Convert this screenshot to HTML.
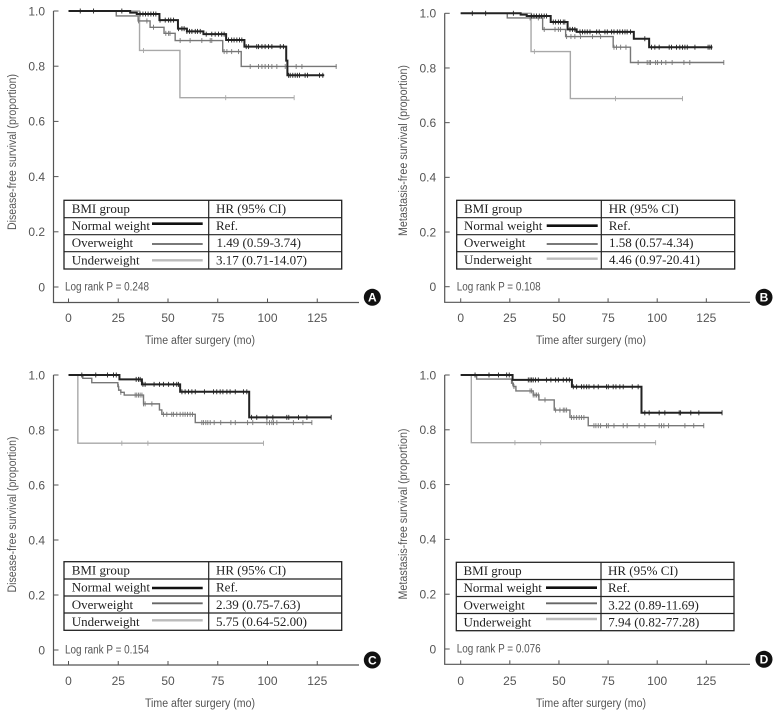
<!DOCTYPE html>
<html lang="en">
<head>
<meta charset="utf-8">
<title>Survival by BMI group</title>
<style>
html,body{margin:0;padding:0;background:#fff;}
svg{display:block;}
.ax{font-family:"Liberation Sans",sans-serif;font-size:11.5px;fill:#555;}
.tk{font-family:"Liberation Sans",sans-serif;font-size:12px;fill:#555;}
.tb{font-family:"Liberation Serif",serif;font-size:13px;fill:#222;}
.bd{font-family:"Liberation Sans",sans-serif;font-size:12px;font-weight:bold;fill:#fff;text-anchor:middle;}
.grid{fill:#fff;stroke:#222;stroke-width:1.3;}
.sep{stroke:#222;stroke-width:1.2;}
</style>
</head>
<body>
<svg id="fig" width="779" height="716" viewBox="0 0 779 716" xmlns="http://www.w3.org/2000/svg">

<g id="panel-a">
  <text class="ax" x="12" y="152" text-anchor="middle" textLength="156" lengthAdjust="spacingAndGlyphs" transform="rotate(-90 12 152) translate(0 4)">Disease-free survival (proportion)</text>
  <text class="ax" x="200" y="344" text-anchor="middle" textLength="110" lengthAdjust="spacingAndGlyphs">Time after surgery (mo)</text>
  <text class="ax" x="65" y="290.5" textLength="84" lengthAdjust="spacingAndGlyphs">Log rank P = 0.248</text>
  <g>
    <rect class="grid" x="64" y="200.3" width="277.7" height="68.7"/>
    <line class="sep" x1="64" x2="341.7" y1="217.7" y2="217.7"/>
    <line class="sep" x1="64" x2="341.7" y1="234.7" y2="234.7"/>
    <line class="sep" x1="64" x2="341.7" y1="251.7" y2="251.7"/>
    <line class="sep" x1="208.7" x2="208.7" y1="200.3" y2="269"/>
    <text class="tb" x="71.7" y="213">BMI group</text>
    <text class="tb" x="216" y="213">HR (95% CI)</text>
    <text class="tb" x="71.7" y="230">Normal weight</text>
    <text class="tb" x="216" y="230">Ref.</text>
    <text class="tb" x="71.7" y="247">Overweight</text>
    <text class="tb" x="216.5" y="247">1.49 (0.59-3.74)</text>
    <text class="tb" x="71.7" y="264.3">Underweight</text>
    <text class="tb" x="216" y="264.3">3.17 (0.71-14.07)</text>
    <line x1="152" x2="202.7" y1="223.7" y2="223.7" stroke="#111" stroke-width="2.6"/>
    <line x1="152" x2="202.7" y1="244" y2="244" stroke="#666" stroke-width="1.8"/>
    <line x1="152" x2="202.7" y1="260.3" y2="260.3" stroke="#bbb" stroke-width="2.4"/>
  </g>
  <circle cx="372.3" cy="297.3" r="8.5" fill="#111"/>
  <text class="bd" x="372.3" y="301.6">A</text>
</g>

<g id="panel-b">
  <text class="ax" x="403" y="150.5" text-anchor="middle" textLength="171" lengthAdjust="spacingAndGlyphs" transform="rotate(-90 403 150.5) translate(0 4)">Metastasis-free survival (proportion)</text>
  <text class="ax" x="591" y="344" text-anchor="middle" textLength="110" lengthAdjust="spacingAndGlyphs">Time after surgery (mo)</text>
  <text class="ax" x="456.7" y="290.5" textLength="84" lengthAdjust="spacingAndGlyphs">Log rank P = 0.108</text>
  <g>
    <rect class="grid" x="456.7" y="200.3" width="278" height="68.7"/>
    <line class="sep" x1="456.7" x2="734.7" y1="217.7" y2="217.7"/>
    <line class="sep" x1="456.7" x2="734.7" y1="234.7" y2="234.7"/>
    <line class="sep" x1="456.7" x2="734.7" y1="251.7" y2="251.7"/>
    <line class="sep" x1="601.3" x2="601.3" y1="200.3" y2="269"/>
    <text class="tb" x="464" y="213">BMI group</text>
    <text class="tb" x="608.7" y="213">HR (95% CI)</text>
    <text class="tb" x="464" y="230">Normal weight</text>
    <text class="tb" x="608.7" y="230">Ref.</text>
    <text class="tb" x="464" y="247">Overweight</text>
    <text class="tb" x="609" y="247">1.58 (0.57-4.34)</text>
    <text class="tb" x="464" y="264">Underweight</text>
    <text class="tb" x="609" y="264">4.46 (0.97-20.41)</text>
    <line x1="546.7" x2="597.7" y1="225.7" y2="225.7" stroke="#111" stroke-width="2.6"/>
    <line x1="546.7" x2="597.7" y1="244" y2="244" stroke="#666" stroke-width="1.8"/>
    <line x1="546.7" x2="597.7" y1="258.7" y2="258.7" stroke="#bbb" stroke-width="2.4"/>
  </g>
  <circle cx="764" cy="297.3" r="8.5" fill="#111"/>
  <text class="bd" x="764" y="301.6">B</text>
</g>

<g id="panel-c">
  <text class="ax" x="12" y="514.5" text-anchor="middle" textLength="156" lengthAdjust="spacingAndGlyphs" transform="rotate(-90 12 514.5) translate(0 4)">Disease-free survival (proportion)</text>
  <text class="ax" x="200" y="707" text-anchor="middle" textLength="110" lengthAdjust="spacingAndGlyphs">Time after surgery (mo)</text>
  <text class="ax" x="65" y="653.5" textLength="84" lengthAdjust="spacingAndGlyphs">Log rank P = 0.154</text>
  <g>
    <rect class="grid" x="64" y="561.7" width="277.7" height="68.6"/>
    <line class="sep" x1="64" x2="341.7" y1="579" y2="579"/>
    <line class="sep" x1="64" x2="341.7" y1="596" y2="596"/>
    <line class="sep" x1="64" x2="341.7" y1="613" y2="613"/>
    <line class="sep" x1="208.7" x2="208.7" y1="561.7" y2="630.3"/>
    <text class="tb" x="71.7" y="574.5">BMI group</text>
    <text class="tb" x="216" y="574.5">HR (95% CI)</text>
    <text class="tb" x="71.7" y="591.5">Normal weight</text>
    <text class="tb" x="216" y="591.5">Ref.</text>
    <text class="tb" x="71.7" y="609">Overweight</text>
    <text class="tb" x="216" y="609">2.39 (0.75-7.63)</text>
    <text class="tb" x="71.7" y="626">Underweight</text>
    <text class="tb" x="216" y="626">5.75 (0.64-52.00)</text>
    <line x1="152" x2="202.7" y1="588" y2="588" stroke="#111" stroke-width="2.6"/>
    <line x1="152" x2="202.7" y1="603.3" y2="603.3" stroke="#666" stroke-width="1.8"/>
    <line x1="152" x2="202.7" y1="620.3" y2="620.3" stroke="#bbb" stroke-width="2.4"/>
  </g>
  <circle cx="372.3" cy="660" r="8.5" fill="#111"/>
  <text class="bd" x="372.3" y="664.3">C</text>
</g>

<g id="panel-d">
  <text class="ax" x="403" y="514" text-anchor="middle" textLength="171" lengthAdjust="spacingAndGlyphs" transform="rotate(-90 403 514) translate(0 4)">Metastasis-free survival (proportion)</text>
  <text class="ax" x="591" y="707" text-anchor="middle" textLength="110" lengthAdjust="spacingAndGlyphs">Time after surgery (mo)</text>
  <text class="ax" x="456.7" y="652.5" textLength="84" lengthAdjust="spacingAndGlyphs">Log rank P = 0.076</text>
  <g>
    <rect class="grid" x="456.3" y="562.3" width="277.7" height="68.4"/>
    <line class="sep" x1="456.3" x2="734" y1="579.5" y2="579.5"/>
    <line class="sep" x1="456.3" x2="734" y1="596.5" y2="596.5"/>
    <line class="sep" x1="456.3" x2="734" y1="613.5" y2="613.5"/>
    <line class="sep" x1="601" x2="601" y1="562.3" y2="630.7"/>
    <text class="tb" x="463.5" y="575">BMI group</text>
    <text class="tb" x="608" y="575">HR (95% CI)</text>
    <text class="tb" x="463.5" y="592">Normal weight</text>
    <text class="tb" x="608" y="592">Ref.</text>
    <text class="tb" x="463.5" y="609.5">Overweight</text>
    <text class="tb" x="608.3" y="609.5">3.22 (0.89-11.69)</text>
    <text class="tb" x="463.5" y="626.5">Underweight</text>
    <text class="tb" x="608.3" y="626.5">7.94 (0.82-77.28)</text>
    <line x1="546" x2="597" y1="587.7" y2="587.7" stroke="#111" stroke-width="2.6"/>
    <line x1="546" x2="597" y1="603.3" y2="603.3" stroke="#666" stroke-width="1.8"/>
    <line x1="546" x2="597" y1="619" y2="619" stroke="#bbb" stroke-width="2.4"/>
  </g>
  <circle cx="764" cy="659.3" r="8.5" fill="#111"/>
  <text class="bd" x="764" y="663.6">D</text>
</g>
</svg>

<script>
const xTickValues = [0, 25, 50, 75, 100, 125];
const yTickValues = [0, 0.2, 0.4, 0.6, 0.8, 1.0];
const yTickLabels = ['0', '0.2', '0.4', '0.6', '0.8', '1.0'];

/* Panel A: disease-free survival */
const aNormalTimes = [0, 31, 34.3, 45.7, 55, 59.5, 67.8, 79.2, 88.4, 109.4, 110, 128.5];
const aNormalSurv = [1, 0.994, 0.989, 0.967, 0.936, 0.926, 0.916, 0.895, 0.871, 0.82, 0.767, 0.767];
const aNormalCensored = [5.9, 12.6, 26.8, 36, 37.4, 38.7, 40, 41.4, 42.7, 43.9, 46, 48.6, 50.3, 51.4, 52.8, 55.3, 57, 58.1, 59.5, 60.8, 62, 63.7, 64.8, 66.2, 69.2, 72, 73.7, 75.4, 77, 78.2, 80.4, 82, 83.2, 84.6, 85.9, 87.1, 89.3, 90.5, 94.6, 95.5, 97.2, 98.8, 100.5, 102.2, 106.4, 108, 110.6, 111.4, 112.7, 113.9, 115, 116.1, 118.9, 120.1, 126.1, 127.8];
const aOverTimes = [0, 24, 35, 41, 48, 53.6, 77.5, 86.8, 134.8];
const aOverSurv = [1, 0.982, 0.964, 0.941, 0.919, 0.893, 0.853, 0.799, 0.799];
const aOverCensored = [35.2, 39.4, 42.7, 48.9, 50.3, 51, 56.1, 61.1, 67, 71.2, 72, 78.2, 79.6, 82, 85.4, 91.3, 95.5, 97.2, 98.8, 100.5, 102.2, 104.7, 108.9, 114.4, 117.3, 134.5];
const aUnderTimes = [0, 35.7, 56, 113.4];
const aUnderSurv = [1, 0.857, 0.686, 0.686];
const aUnderCensored = [37.7, 79, 113.4];

/* Panel B: metastasis-free survival */
const bNormalTimes = [0, 30.5, 33.6, 45.8, 54.4, 59, 88.1, 95.9, 128.1];
const bNormalSurv = [1, 0.995, 0.99, 0.968, 0.941, 0.932, 0.907, 0.876, 0.876];
const bNormalCensored = [5.9, 12.7, 26.8, 36.1, 37.3, 38.6, 40, 41.2, 42.5, 43.7, 47.1, 48.3, 49.7, 50.8, 52.2, 53, 55.6, 56.9, 58.1, 60.7, 62, 63.2, 64.4, 65.8, 69.2, 70.5, 73.4, 74.6, 76.8, 78, 79.7, 81, 82.4, 83.6, 84.7, 86.4, 93.7, 97.1, 98.8, 101, 106.1, 107.3, 109.8, 111.5, 112.9, 114.1, 115.3, 119.2, 125.9, 126.8, 127.6];
const bOverTimes = [0, 23.7, 41.7, 53.4, 77.6, 86.4, 133.9];
const bOverSurv = [1, 0.983, 0.941, 0.915, 0.876, 0.82, 0.82];
const bOverCensored = [35.3, 39.5, 42.5, 48, 49.7, 50.8, 53.9, 56.1, 58.1, 61, 67.1, 71.2, 78, 79.3, 81.4, 84.1, 90.3, 94.9, 95.9, 96.6, 99.2, 100.2, 102.2, 104.4, 107.6, 113.6, 116.6, 133.9];
const bUnderTimes = [0, 35.8, 55.8, 112.9];
const bUnderSurv = [1, 0.86, 0.688, 0.688];
const bUnderCensored = [37.5, 78.8, 112.9];

/* Panel C: disease-free survival */
const cNormalTimes = [0, 25.6, 36.9, 56.1, 90.8, 132];
const cNormalSurv = [1, 0.984, 0.966, 0.939, 0.846, 0.846];
const cNormalCensored = [6.7, 13.7, 19.6, 22.6, 24, 34, 35.2, 36, 37.4, 38.5, 43, 45.7, 47.7, 50.3, 52.8, 54.4, 55.3, 57, 58.6, 60.3, 62, 63.7, 68.3, 72.9, 74.5, 76.2, 77.6, 79.6, 81.2, 83.8, 87.9, 89.6, 92, 94.6, 99.7, 102.7, 109.7, 110.7, 115.6, 119.8, 132];
const cOverTimes = [0, 7.2, 11.7, 24.8, 25.2, 26.3, 28, 37.7, 45.7, 46.9, 63.7, 122.3];
const cOverSurv = [1, 0.988, 0.972, 0.958, 0.945, 0.937, 0.927, 0.895, 0.873, 0.857, 0.827, 0.827];
const cOverCensored = [25.1, 26.3, 33.5, 34.3, 35.2, 36, 36.9, 37.7, 38.5, 41.9, 47.7, 49.4, 51.9, 52.8, 54.4, 56.1, 57.5, 58.6, 59.8, 61.1, 62.3, 67, 67.8, 69, 70, 71.2, 73.2, 76.5, 81.6, 83.8, 90, 92.6, 99.7, 101, 102.2, 103, 104.7, 113, 117.8, 122.3];
const cUnderTimes = [0, 4.7, 98];
const cUnderSurv = [1, 0.752, 0.752];
const cUnderCensored = [26.8, 39.9, 98];

/* Panel D: metastasis-free survival */
const dNormalTimes = [0, 26.4, 56.6, 92, 133];
const dNormalSurv = [1, 0.982, 0.957, 0.862, 0.862];
const dNormalCensored = [7.3, 14.4, 19.2, 23.4, 24.7, 34.4, 35.3, 36.1, 36.9, 38.1, 39.5, 43.7, 45.9, 48.3, 49.7, 52.2, 53.9, 55.3, 57.3, 59, 61.5, 62.7, 64.1, 65.3, 67.8, 70, 74.2, 75.1, 77.6, 79, 81, 82.7, 87.3, 90.3, 93.7, 95.9, 101, 103.9, 111.2, 111.9, 117.1, 121.2, 133];
const dOverTimes = [0, 8.1, 25.9, 26.8, 28.1, 36.9, 39.8, 47.6, 55.6, 64.9, 123.7];
const dOverSurv = [1, 0.985, 0.97, 0.958, 0.942, 0.927, 0.909, 0.872, 0.845, 0.815, 0.815];
const dOverCensored = [26.4, 27.1, 35.3, 36.1, 36.9, 37.8, 38.6, 39.5, 42.9, 48.3, 50.5, 52.2, 53, 53.9, 56.4, 57.6, 59, 60.3, 61.5, 62.7, 67.8, 68.8, 70, 71.2, 74.2, 75.1, 78, 82.7, 84.7, 90.8, 93.7, 101, 102.2, 103.4, 105.8, 114.1, 118.6, 123.7];
const dUnderTimes = [0, 5.4, 99.2];
const dUnderSurv = [1, 0.753, 0.753];
const dUnderCensored = [27.6, 40.7, 99.2];

const NS = 'http://www.w3.org/2000/svg';
const styleNormal = {name: 'normal-weight', color: '#222', width: 2};
const styleOver = {name: 'overweight', color: '#777', width: 1.4};
const styleUnder = {name: 'underweight', color: '#a8a8a8', width: 1.4};

const panels = [
  {id: 'panel-a', axisX: 53.5, axisBottom: 302.5, axisRight: 359, x0: 68.5, xScale: 1.99, y0: 287, yScale: 276, labelY: 322,
   series: [
     {style: styleUnder, t: aUnderTimes, s: aUnderSurv, c: aUnderCensored},
     {style: styleOver, t: aOverTimes, s: aOverSurv, c: aOverCensored},
     {style: styleNormal, t: aNormalTimes, s: aNormalSurv, c: aNormalCensored}]},
  {id: 'panel-b', axisX: 444.7, axisBottom: 302.3, axisRight: 750, x0: 460.7, xScale: 1.965, y0: 286.7, yScale: 273.4, labelY: 322,
   series: [
     {style: styleUnder, t: bUnderTimes, s: bUnderSurv, c: bUnderCensored},
     {style: styleOver, t: bOverTimes, s: bOverSurv, c: bOverCensored},
     {style: styleNormal, t: bNormalTimes, s: bNormalSurv, c: bNormalCensored}]},
  {id: 'panel-c', axisX: 53.5, axisBottom: 665, axisRight: 359, x0: 68.5, xScale: 1.99, y0: 650, yScale: 275, labelY: 685,
   series: [
     {style: styleUnder, t: cUnderTimes, s: cUnderSurv, c: cUnderCensored},
     {style: styleOver, t: cOverTimes, s: cOverSurv, c: cOverCensored},
     {style: styleNormal, t: cNormalTimes, s: cNormalSurv, c: cNormalCensored}]},
  {id: 'panel-d', axisX: 444.7, axisBottom: 664.3, axisRight: 750, x0: 460.7, xScale: 1.965, y0: 649, yScale: 274, labelY: 685,
   series: [
     {style: styleUnder, t: dUnderTimes, s: dUnderSurv, c: dUnderCensored},
     {style: styleOver, t: dOverTimes, s: dOverSurv, c: dOverCensored},
     {style: styleNormal, t: dNormalTimes, s: dNormalSurv, c: dNormalCensored}]}
];

function make(tag, attrs, parent) {
  const el = document.createElementNS(NS, tag);
  for (const k in attrs) el.setAttribute(k, attrs[k]);
  parent.appendChild(el);
  return el;
}

function survivalAt(series, time) {
  let v = series.s[0];
  for (let i = 0; i < series.t.length; i++) {
    if (series.t[i] <= time) v = series.s[i];
  }
  return v;
}

panels.forEach(function (p) {
  const root = document.getElementById(p.id);
  const xPos = function (m) { return p.x0 + m * p.xScale; };
  const yPos = function (v) { return p.y0 - v * p.yScale; };

  const yAxis = make('line', {x1: p.axisX, x2: p.axisX, y1: yPos(1), y2: p.axisBottom, stroke: '#555', 'stroke-width': 1.2}, root);
  
  

  const xAxis = make('line', {x1: p.axisX - 0.6, x2: p.axisRight, y1: p.axisBottom, y2: p.axisBottom, stroke: '#555', 'stroke-width': 1.2}, root);
  
  

  yTickValues.forEach(function (v, i) {
    const tick = make('line', {x1: p.axisX, x2: p.axisX + 5, y1: yPos(v), y2: yPos(v), stroke: '#555', 'stroke-width': 1}, root);
    
    
    const label = make('text', {class: 'tk', x: p.axisX - 8.5, y: yPos(v) + 4.3, 'text-anchor': 'end'}, root);
    label.textContent = yTickLabels[i];
    
    
  });

  xTickValues.forEach(function (v) {
    const tick = make('line', {x1: xPos(v), x2: xPos(v), y1: p.axisBottom - 4, y2: p.axisBottom, stroke: '#555', 'stroke-width': 1}, root);
    
    
    const label = make('text', {class: 'tk', x: xPos(v), y: p.labelY, 'text-anchor': 'middle'}, root);
    label.textContent = String(v);
    
    
  });

  p.series.forEach(function (series) {
    let d = 'M' + xPos(series.t[0]).toFixed(2) + ' ' + yPos(series.s[0]).toFixed(2);
    for (let i = 1; i < series.t.length; i++) {
      d += 'H' + xPos(series.t[i]).toFixed(2) + 'V' + yPos(series.s[i]).toFixed(2);
    }
    const curve = make('path', {d: d, fill: 'none', stroke: series.style.color, 'stroke-width': series.style.width}, root);
    
    

    series.c.forEach(function (time) {
      const y = yPos(survivalAt(series, time));
      const mark = make('line', {x1: xPos(time), x2: xPos(time), y1: y - 2.5, y2: y + 2.5, stroke: series.style.color, 'stroke-width': 0.9}, root);
      
      
    });
  });
});
</script>
</body>
</html>
